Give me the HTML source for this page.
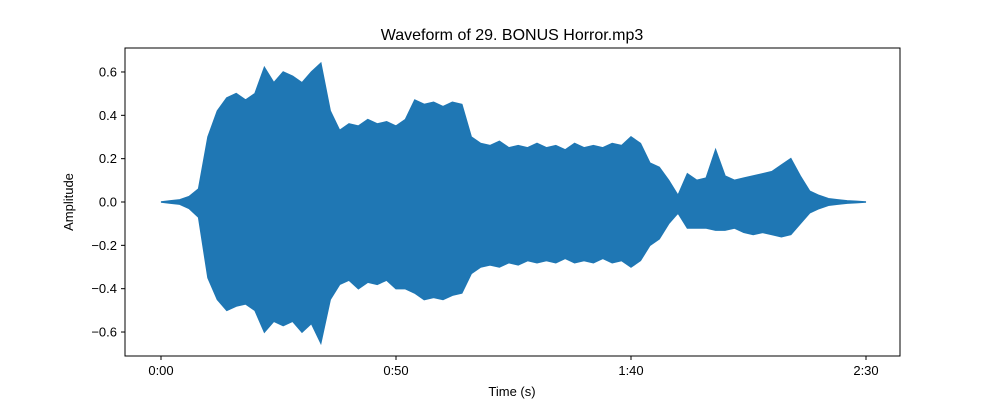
<!DOCTYPE html>
<html><head><meta charset="utf-8"><style>
body{margin:0;background:#fff;}
svg text{font-family:"Liberation Sans",sans-serif;fill:#000;}
</style></head><body>
<svg id="chart" width="1000" height="400">
<rect width="1000" height="400" fill="#fff"/>
<g id="marks"></g>
<rect x="125" y="48" width="775" height="308" fill="none" stroke="#000" stroke-width="1"/>
<g id="axes"></g>
<text x="512" y="40" font-size="16" text-anchor="middle">Waveform of 29. BONUS Horror.mp3</text>
<text x="512" y="396" font-size="13" text-anchor="middle">Time (s)</text>
<text x="73" y="202" font-size="13" text-anchor="middle" transform="rotate(-90 73 202)">Amplitude</text>
</svg>
<script>
const times=[0,2,4,6,8,10,12,14,16,18,20,22,24,26,28,30,32,34,36,38,40,42,44,46,48,50,52,54,56,58,60,62,64,66,68,70,72,74,76,78,80,82,84,86,88,90,92,94,96,98,100,102,104,106,108,110,112,114,116,118,120,122,124,126,128,130,132,134,136,138,140,142,144,146,148,150];
const upper=[0,0.005,0.01,0.025,0.06,0.3,0.42,0.48,0.5,0.47,0.5,0.62,0.55,0.6,0.58,0.55,0.6,0.64,0.42,0.33,0.36,0.35,0.38,0.36,0.37,0.35,0.38,0.47,0.45,0.46,0.44,0.46,0.45,0.3,0.27,0.26,0.28,0.25,0.26,0.25,0.27,0.25,0.26,0.24,0.27,0.25,0.26,0.25,0.27,0.26,0.3,0.27,0.18,0.16,0.1,0.03,0.13,0.1,0.11,0.24,0.12,0.1,0.11,0.12,0.13,0.14,0.17,0.2,0.12,0.05,0.03,0.015,0.01,0.005,0.003,0];
const lower=[0,-0.005,-0.01,-0.03,-0.07,-0.35,-0.45,-0.5,-0.48,-0.47,-0.5,-0.6,-0.55,-0.57,-0.55,-0.6,-0.56,-0.65,-0.45,-0.38,-0.36,-0.4,-0.37,-0.38,-0.36,-0.4,-0.4,-0.42,-0.45,-0.44,-0.45,-0.43,-0.42,-0.33,-0.3,-0.29,-0.3,-0.28,-0.29,-0.27,-0.28,-0.27,-0.28,-0.26,-0.28,-0.27,-0.28,-0.26,-0.28,-0.27,-0.3,-0.27,-0.2,-0.17,-0.1,-0.05,-0.12,-0.12,-0.12,-0.13,-0.13,-0.12,-0.14,-0.15,-0.14,-0.15,-0.16,-0.15,-0.1,-0.05,-0.03,-0.015,-0.01,-0.005,-0.003,0];
const xTicks=[0,50,100,150];
const xTickLabels=["0:00","0:50","1:40","2:30"];
const yTicks=[-0.6,-0.4,-0.2,0,0.2,0.4,0.6];
const yTickLabels=["−0.6","−0.4","−0.2","0.0","0.2","0.4","0.6"];
const NS="http://www.w3.org/2000/svg";
const xs=t=>161+t*4.7;
const ys=v=>202-v*216.7;
const marks=document.getElementById('marks');
let pts=times.map((t,i)=>xs(t)+","+ys(upper[i]));
for(let i=times.length-1;i>=0;i--)pts.push(xs(times[i])+","+ys(lower[i]));
const poly=document.createElementNS(NS,'polygon');
poly.setAttribute('points',pts.join(' '));
poly.setAttribute('fill','#1f77b4');
poly.setAttribute('stroke','#1f77b4');
poly.setAttribute('stroke-width','1.5');


marks.appendChild(poly);
const axes=document.getElementById('axes');
xTicks.forEach((t,i)=>{
 const l=document.createElementNS(NS,'line');
 l.setAttribute('x1',xs(t));l.setAttribute('x2',xs(t));l.setAttribute('y1',356);l.setAttribute('y2',360);l.setAttribute('stroke','#000');
 
 
 axes.appendChild(l);
 const tx=document.createElementNS(NS,'text');
 tx.setAttribute('x',xs(t));tx.setAttribute('y',375);tx.setAttribute('font-size','13');tx.setAttribute('text-anchor','middle');
 tx.textContent=xTickLabels[i];
 
 
 axes.appendChild(tx);
});
yTicks.forEach((v,i)=>{
 const l=document.createElementNS(NS,'line');
 l.setAttribute('x1',121);l.setAttribute('x2',125);l.setAttribute('y1',ys(v));l.setAttribute('y2',ys(v));l.setAttribute('stroke','#000');
 
 
 axes.appendChild(l);
 const tx=document.createElementNS(NS,'text');
 tx.setAttribute('x',117);tx.setAttribute('y',ys(v)+4.5);tx.setAttribute('font-size','13');tx.setAttribute('text-anchor','end');
 tx.textContent=yTickLabels[i];
 
 
 axes.appendChild(tx);
});
</script>
</body></html>
